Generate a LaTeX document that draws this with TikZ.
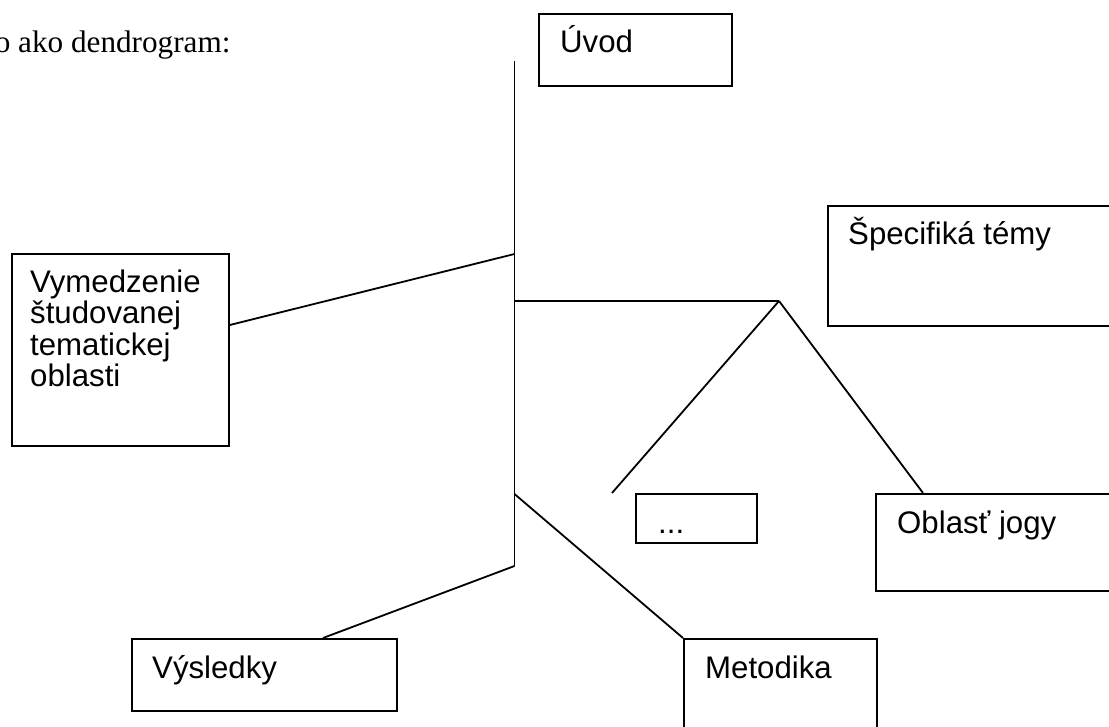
\documentclass[tikz,border=0pt]{standalone}
\usepackage{fontspec}
\setmainfont{Liberation Sans}
\newfontfamily\headfont{Liberation Serif}
\usetikzlibrary{positioning, calc}

\begin{document}
\begin{tikzpicture}[
		x=1pt, y=-1pt,
		box/.style={draw, rectangle, line width=1.8pt, inner sep=0pt, anchor=north west},
		txt/.style={anchor=base west, inner sep=0pt, align=left, font=\fontsize{31.2}{31.5}\selectfont},
		link/.style={line width=1.8pt}
		]
		\useasboundingbox (0,0) rectangle (1109,727);
		
		% Heading
		\node[txt, font=\headfont\fontsize{31.2}{31.5}\selectfont] (head) at (-5.4,53) {o ako dendrogram:};
		
		% Boxes
		\node[box, minimum width=193, minimum height=72] (uvod) at (538,13) {};
		\node[box, minimum width=217, minimum height=192] (vym) at (11,253) {};
		\node[box, minimum width=290, minimum height=120] (spec) at (827,205) {};
		\node[box, minimum width=245, minimum height=97] (oblast) at (875,493) {};
		\node[box, minimum width=121, minimum height=49] (dots) at (635,493) {};
		\node[box, minimum width=193, minimum height=110] (met) at (683,638) {};
		\node[box, minimum width=265, minimum height=72] (vysl) at (131,638) {};
		
		% Texts (base of the last line)
		\node[txt] (uvodtext) at ($(uvod.north west)+(22,40)$) {Úvod};
		\node[txt] (vymtext) at ($(vym.north west)+(19,133.5)$) {Vymedzenie\\študovanej\\tematickej\\oblasti};
		\node[txt] (spectext) at ($(spec.north west)+(21,40)$) {Špecifiká témy};
		\node[txt] (oblasttext) at ($(oblast.north west)+(22,40)$) {Oblasť jogy};
		\node[txt] (dotstext) at ($(dots.north west)+(23,40)$) {...};
		\node[txt] (mettext) at ($(met.north west)+(22,40)$) {Metodika};
		\node[txt] (vysltext) at ($(vysl.north west)+(21,40)$) {Výsledky};
		
		% Trunk and branches
		\coordinate (trunktop) at (514.5,61);
		\coordinate (trunkbot) at (514.5,566);
		\coordinate (jvym) at (514.5,254);
		\coordinate (jmet) at (514.5,494);
		\coordinate (fork) at (779,301);
		\coordinate (dotsend) at (612,493);
		
		\draw[link] (trunktop) -- (trunkbot);
		\draw[link] ($(vym.north east)+(0,72)$) -- (jvym);
		\draw[link] (trunktop |- fork) -- (fork);
		\draw[link] (fork) -- (dotsend);
		\draw[link] (fork) -- ($(oblast.north west)+(48,0)$);
		\draw[link] (jmet) -- (met.north west);
		\draw[link] (trunkbot) -- ($(vysl.north west)+(192,0)$);
		
	\end{tikzpicture}
\end{document}
